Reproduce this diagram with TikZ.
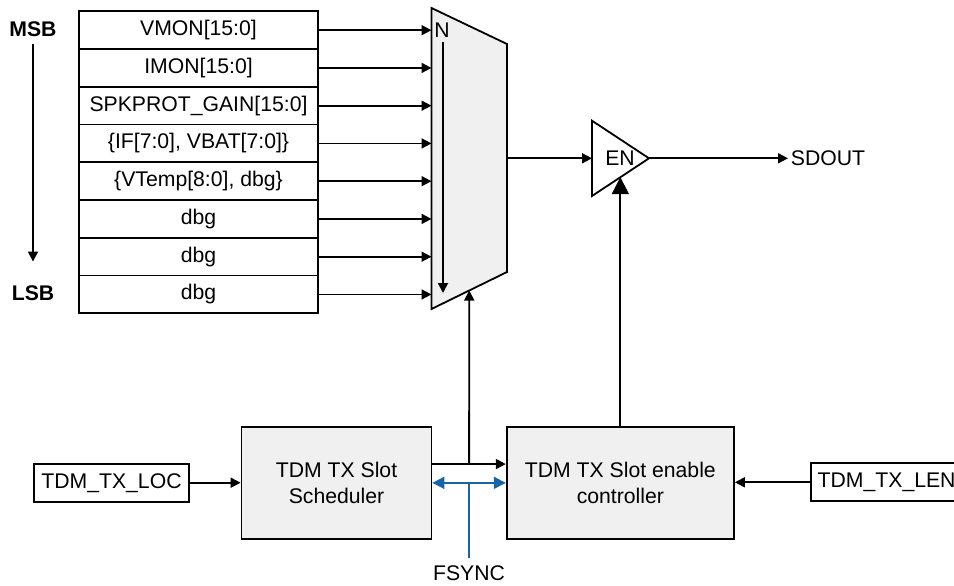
\documentclass[tikz,border=0pt]{standalone}
\usepackage{fontspec}
\setmainfont{Liberation Sans}
\usepackage{tikz}
\usetikzlibrary{arrows.meta,calc}
\definecolor{blockGray}{RGB}{240, 240, 240}
\definecolor{fsyncBlue}{RGB}{22, 101, 167}

\begin{document}
\begin{tikzpicture}[x=0.5pt, y=-0.5pt, line width=0.9pt,
    font=\fontsize{10.6}{12.7}\selectfont,
    >={Triangle[length=5pt,width=5pt]},
    regbox/.style={draw, fill=white, minimum width=119.5pt, minimum height=18.875pt, inner sep=0pt},
    iobox/.style={draw, fill=white, minimum height=19pt, inner xsep=3.4pt, inner ysep=0pt},
    block/.style={draw, fill=blockGray, align=center, inner sep=0pt}]
  \useasboundingbox (0,0) rectangle (954,585);

  % 1. Mux (N slots)
  \coordinate (mux-tl) at (431.5,8);
  \coordinate (mux-tr) at (507,44);
  \coordinate (mux-br) at (507,272);
  \coordinate (mux-bl) at (431.5,309);
  \draw[fill=blockGray] (mux-tl) -- (mux-tr) -- (mux-br) -- (mux-bl) -- cycle;
  \node (nlbl) at (442,30) {N};
  \draw[->] (443,42) -- (443,293);

  % 2. Slot registers, MSB first
  \foreach \txt [count=\i] in {VMON[15:0], IMON[15:0], SPKPROT\_GAIN[15:0],
      {\{IF[7:0], VBAT[7:0]\}}, {\{VTemp[8:0], dbg\}}, dbg, dbg, dbg} {
    \node[regbox] (r\i) at (198.5,{11.3+37.75*(\i-0.5)}) {\txt};
    \draw[->] (r\i.east) -- (r\i.east -| mux-tl);
  }
  \node[font=\fontsize{10.6}{12.7}\selectfont\bfseries] (msb) at (33,29) {MSB};
  \node[font=\fontsize{10.6}{12.7}\selectfont\bfseries] (lsb) at (33,293) {LSB};
  \draw[->] (msb.south) -- ([yshift=8.2pt]lsb.north);

  % 3. Output enable
  \coordinate (en-lt) at (592,120.7);
  \coordinate (en-tip) at (649,158.3);
  \coordinate (en-lb) at (592,196);
  \draw (en-lt) -- (en-tip) -- (en-lb) -- cycle;
  \node (en) at (620,158.3) {EN};
  \coordinate (en-b) at ($(en-lb)!0.5!(en-tip)$);
  \draw[->] (507,158.3) -- (en-lt |- en-tip);
  \node[anchor=west, inner sep=1pt] (sdout) at (788,158.3) {SDOUT};
  \draw[->] (en-tip) -- (sdout.west);

  % 4. Slot scheduler and enable controller
  \node[block, minimum width=95pt, minimum height=56.15pt] (sched) at (336.5,482.85)
    {TDM TX Slot\\Scheduler};
  \node[block, minimum width=113.65pt, minimum height=56.15pt] (ctrl) at (620.35,482.85)
    {TDM TX Slot enable\\controller};
  \node[iobox, minimum width=77.75pt] (loc) at (111.5,482.7) {TDM\_TX\_LOC};
  \node[iobox, anchor=west] (len) at (810,482.3) {TDM\_TX\_LEN};
  \draw[->] (loc.east) -- (loc.east -| sched.west);
  \draw[->] (len.west) -- (len.west -| ctrl.east);
  \draw[->] ([yshift=9.4pt]sched.east) -- coordinate[midway] (sel) ([yshift=9.4pt]ctrl.west);
  \draw[->] (sel) -- ($(mux-bl)!0.5!(mux-br)$);
  \draw[-{Triangle[length=8.5pt,width=8.5pt]}] (ctrl.north) -- (ctrl.north |- en-b);

  % 5. FSYNC
  \node (fsync) at (469,573) {FSYNC};
  \draw[fsyncBlue, {Triangle[length=6pt,width=6pt]}-{Triangle[length=6pt,width=6pt]}]
    (sched.east) -- (ctrl.west);
  \draw[fsyncBlue] (fsync.north) -- (fsync.north |- sched.east);
\end{tikzpicture}
\end{document}
